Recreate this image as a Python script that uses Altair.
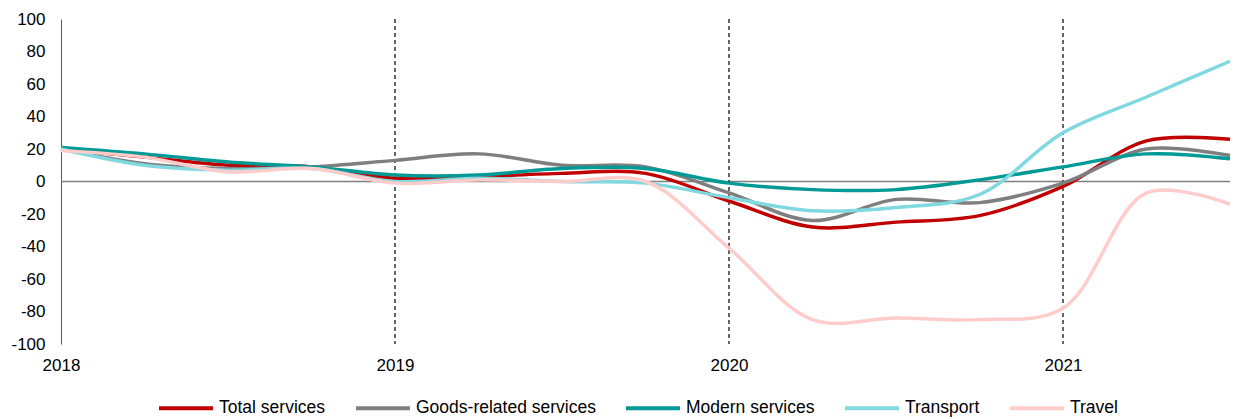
import altair as alt
import pandas as pd

quarters = [2018.0, 2018.25, 2018.5, 2018.75, 2019.0, 2019.25, 2019.5, 2019.75,
            2020.0, 2020.25, 2020.5, 2020.75, 2021.0, 2021.25, 2021.5]

total_services = [20, 15, 10, 9, 2, 3, 5, 5, -12, -28, -25, -21, -3, 25, 26]
goods_related = [20, 11, 8, 9, 13, 17, 10, 9, -7, -24, -11, -13, -1, 20, 16]
modern_services = [21, 17, 12, 9, 4, 4, 8, 8, -1, -5, -5, 1, 9, 17, 14]
transport = [20, 10, 7, 8, 0, 2, 0, -1, -10, -18, -16, -8, 30, 52, 74]
travel = [19, 15, 6, 8, -1, 1, 0, 0, -41, -85, -84, -85, -78, -7, -14]

series_names = ["Total services", "Goods-related services", "Modern services",
                "Transport", "Travel"]
series_colors = ["#C00000", "#7F7F7F", "#009A96", "#80D8E0", "#FFCCCC"]
series_values = [total_services, goods_related, modern_services, transport, travel]

year_lines = [2019, 2020, 2021]
y_ticks = list(range(-100, 101, 20))
x_ticks = [2018, 2019, 2020, 2021]

rows = []
for order, (name, vals) in enumerate(zip(series_names, series_values)):
    for q, v in zip(quarters, vals):
        rows.append({"series": name, "t": q, "value": v, "order": order})
df = pd.DataFrame(rows)

FONT = "Liberation Sans"

x_scale = alt.Scale(domain=[2018, 2021.5], nice=False, zero=False)
y_scale = alt.Scale(domain=[-100, 100], nice=False)

x_axis = alt.Axis(values=x_ticks, labelExpr="'' + datum.value", title=None,
                  domain=False, ticks=False, grid=False, labelPadding=13,
                  labelFlush=False, labelOverlap=False,
                  labelFontSize=17, labelFont=FONT, labelColor="#000000")
y_axis = alt.Axis(values=y_ticks, labelExpr="'' + datum.value", title=None,
                  domain=True, domainColor="#595959",
                  domainWidth=1, ticks=False, grid=False, labelPadding=16,
                  labelFlush=False, labelOverlap=False,
                  labelFontSize=17, labelFont=FONT, labelColor="#000000")

lines = alt.Chart(df).mark_line(interpolate="catmull-rom", strokeWidth=3.5).encode(
    x=alt.X("t:Q", scale=x_scale, axis=x_axis),
    y=alt.Y("value:Q", scale=y_scale, axis=y_axis),
    color=alt.Color("series:N",
                    scale=alt.Scale(domain=series_names, range=series_colors),
                    legend=alt.Legend(title=None, orient="none", direction="horizontal",
                                      legendX=96, legendY=360,
                                      symbolType="stroke", symbolSize=2916,
                                      symbolStrokeWidth=4, labelOffset=4,
                                      columnPadding=22, labelFontSize=17.5,
                                      labelFont=FONT, labelColor="#000000",
                                      labelLimit=300)),
    order=alt.Order("order:Q"),
    detail="series:N",
)

zero_df = pd.DataFrame({"value": [0]})
zero_line = alt.Chart(zero_df).mark_rule(color="#7F7F7F", strokeWidth=1.5).encode(
    y=alt.Y("value:Q", scale=y_scale, axis=y_axis)
)

vl_df = pd.DataFrame({"t": year_lines})
vlines = alt.Chart(vl_df).mark_rule(color="#000000", strokeWidth=1.2,
                                    strokeDash=[4, 3]).encode(
    x=alt.X("t:Q", scale=x_scale, axis=x_axis)
)

chart = alt.layer(zero_line, vlines, lines).properties(
    width=1169, height=325,
    autosize=alt.AutoSizeParams(type="none"),
    padding={"left": 61, "top": 19, "right": 4, "bottom": 75},
    background="#FFFFFF",
).configure_view(stroke=None)

chart.save("out.html", embed_options={"renderer": "svg", "actions": False})
